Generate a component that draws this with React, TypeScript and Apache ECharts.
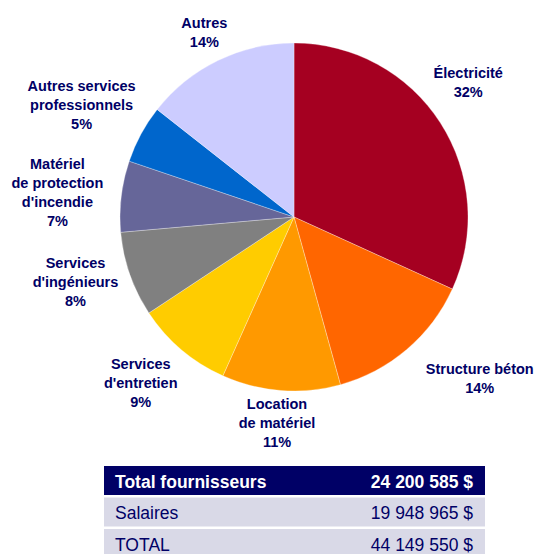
import React, { useEffect, useRef } from "react";
import * as echarts from "echarts";

// ---- data ----
const categories = [
  "Électricité",
  "Structure béton",
  "Location\nde matériel",
  "Services\nd'entretien",
  "Services\nd'ingénieurs",
  "Matériel\nde protection\nd'incendie",
  "Autres services\nprofessionnels",
  "Autres",
];
const shares = [31.8, 13.9, 11.0, 9.0, 7.9, 6.6, 5.4, 14.4];
const sliceColors = [
  "#A50021",
  "#FF6600",
  "#FF9900",
  "#FFCC00",
  "#808080",
  "#666699",
  "#0066CC",
  "#CCCCFF",
];
const tableLabels = ["Total fournisseurs", "Salaires", "TOTAL"];
const tableAmounts = ["24 200 585 $", "19 948 965 $", "44 149 550 $"];

// ---- layout ----
const CX = 294;
const CY = 217;
const R = 174;
const LABEL_GAP = 10;
const labelNudge: [number, number][] = [
  [-10, -16],
  [50, 3],
  [-1, -6],
  [-10, -3],
  [-2, -11],
  [-8, 3],
  [2, 4],
  [0, 0],
];
const TABLE_X = 104;
const TABLE_W = 381;
const TABLE_TOP = 466;
const ROW_PITCH = 31.5;
const ROW_H = 29;
const NAVY = "#000066";
const ROW_BG = "#D9D9E7";
const FONT = "'Liberation Sans', Arial, sans-serif";

export default function App() {
  const ref = useRef<HTMLDivElement>(null);

  useEffect(() => {
    document.body.style.margin = "0";
    if (!ref.current) return;
    const chart = echarts.init(ref.current, null, { renderer: "svg" });
    const total = shares.reduce((a, b) => a + b, 0);

    const graphics: any[] = [];
    tableLabels.forEach((lab, i) => {
      const top = TABLE_TOP + i * ROW_PITCH;
      const header = i === 0;
      graphics.push({
        type: "rect",
        shape: { x: TABLE_X, y: top, width: TABLE_W, height: ROW_H },
        style: { fill: header ? NAVY : ROW_BG },
        silent: true,
      });
      graphics.push({
        type: "text",
        x: TABLE_X + 11,
        y: top + 15.5,
        style: {
          text: lab,
          fill: header ? "#FFFFFF" : NAVY,
          font: `${header ? "bold " : ""}17.5px ${FONT}`,
          align: "left",
          verticalAlign: "middle",
        },
        silent: true,
      });
      graphics.push({
        type: "text",
        x: TABLE_X + TABLE_W - 12,
        y: top + 15.5,
        style: {
          text: tableAmounts[i],
          fill: header ? "#FFFFFF" : NAVY,
          font: `${header ? "bold " : ""}17.5px ${FONT}`,
          align: "right",
          verticalAlign: "middle",
        },
        silent: true,
      });
    });

    chart.setOption({
      animation: false,
      backgroundColor: "#FFFFFF",
      series: [
        {
          type: "pie",
          center: [CX, CY],
          radius: R,
          startAngle: 90,
          clockwise: true,
          silent: true,
          emphasis: { disabled: true },
          itemStyle: { borderColor: "rgba(255,255,255,0.5)", borderWidth: 0.6 },
          data: categories.map((name, i) => ({
            name,
            value: shares[i],
            itemStyle: { color: sliceColors[i] },
          })),
          label: {
            show: true,
            position: "outside",
            overflow: "none",
            formatter: (p: any) => `${p.name}\n${Math.round(p.percent)}%`,
            color: NAVY,
            fontFamily: FONT,
            fontWeight: "bold",
            fontSize: 14.5,
            lineHeight: 19,
            align: "center",
          },
          labelLine: { show: false },
          labelLayout: (params: any) => {
            const i = params.dataIndex;
            let before = 0;
            for (let k = 0; k < i; k++) before += shares[k];
            const mid = ((before + shares[i] / 2) / total) * 2 * Math.PI;
            const dx = Math.sin(mid);
            const dy = -Math.cos(mid);
            const hw = params.labelRect.width / 2;
            const hh = params.labelRect.height / 2;
            const t = Math.min(
              Math.abs(dx) > 1e-6 ? hw / Math.abs(dx) : 1e9,
              Math.abs(dy) > 1e-6 ? hh / Math.abs(dy) : 1e9
            );
            const d = R + LABEL_GAP + t;
            const [nx, ny] = labelNudge[i];
            return {
              x: CX + dx * d + nx,
              y: CY + dy * d + ny,
              align: "center",
              verticalAlign: "middle",
            };
          },
        },
      ],
      graphic: graphics,
    });

    return () => chart.dispose();
  }, []);

  return <div ref={ref} style={{ width: 537, height: 554 }} />;
}
